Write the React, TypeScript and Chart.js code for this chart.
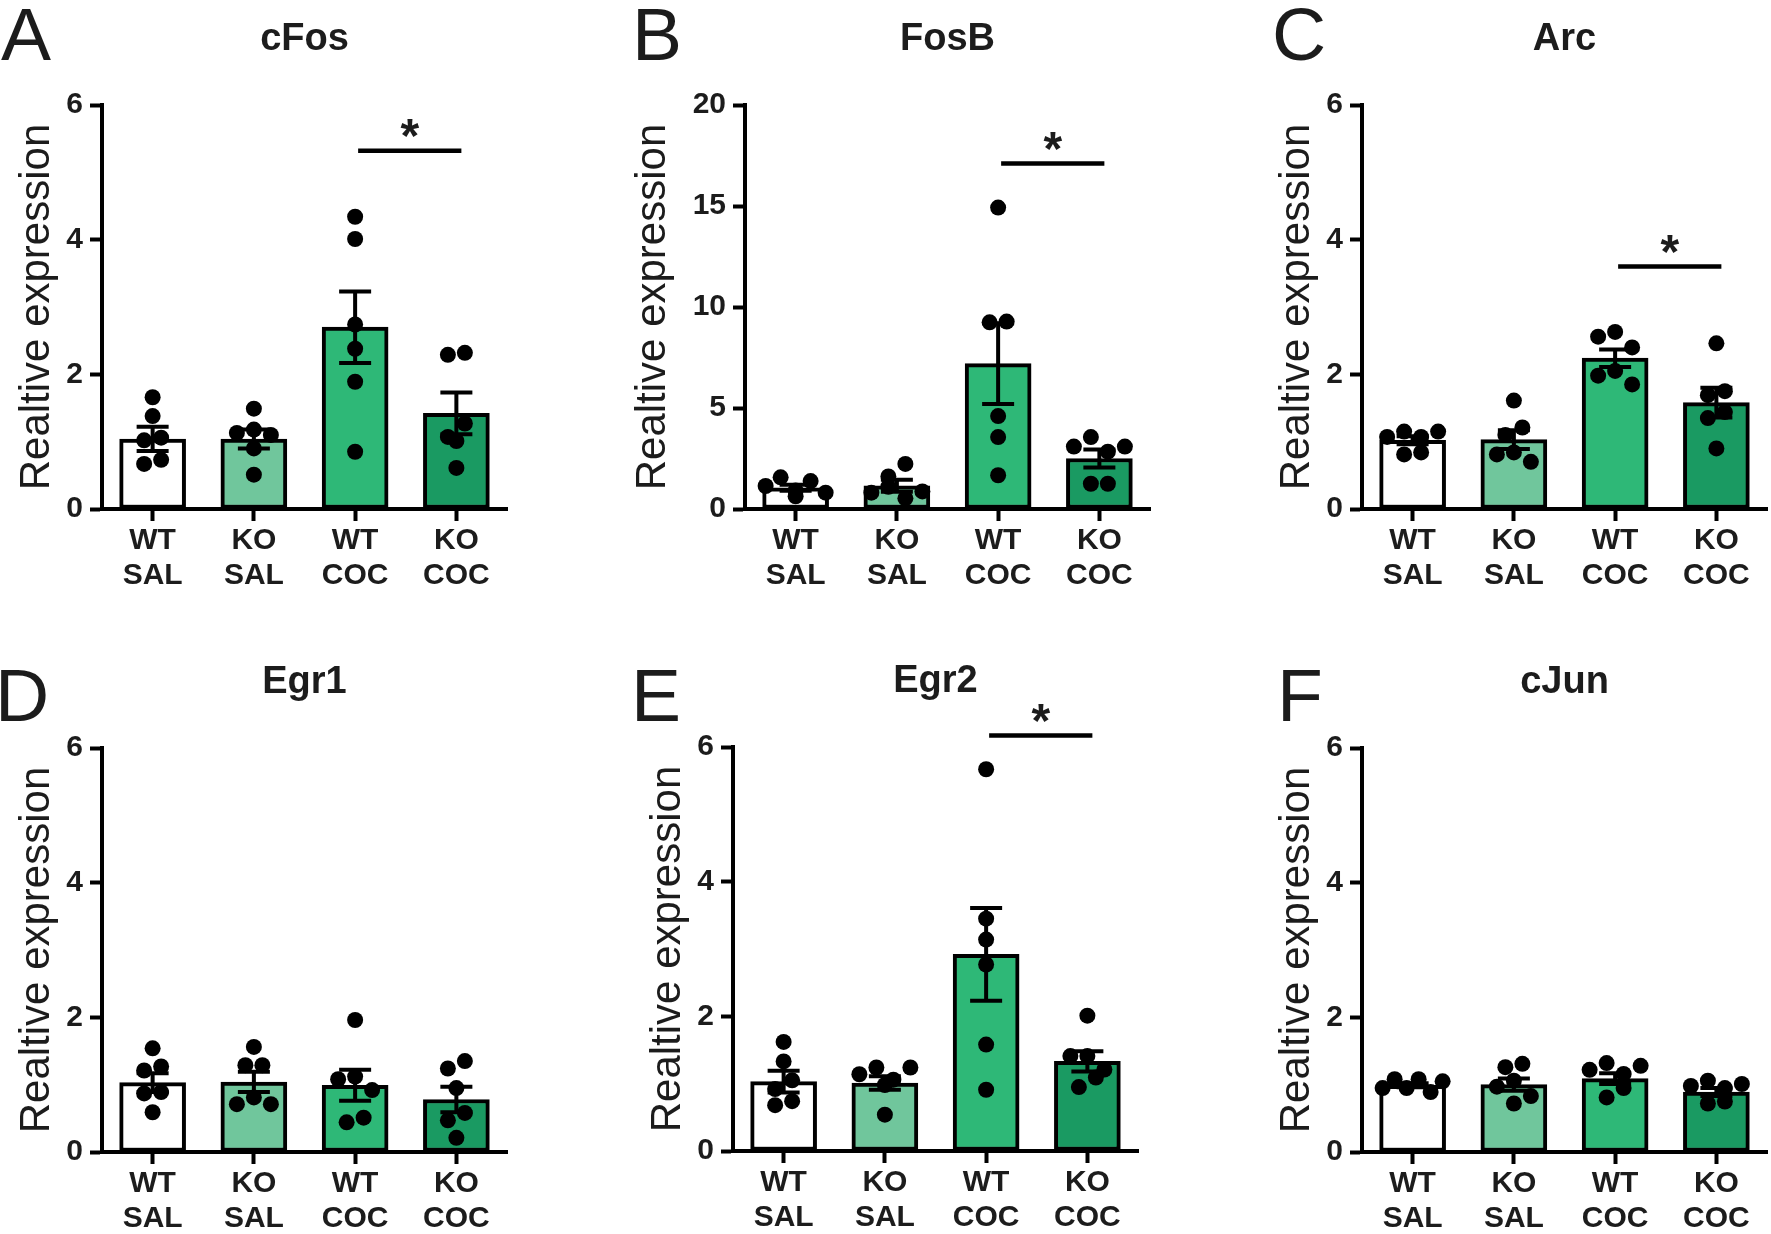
import { useEffect, useRef } from "react";
import { Chart, registerables, type Plugin } from "chart.js";

Chart.register(...registerables);

const groupLabels = [
  ["WT", "SAL"],
  ["KO", "SAL"],
  ["WT", "COC"],
  ["KO", "COC"],
];
const barColors = ["#ffffff", "#70c69c", "#2eb877", "#1a9a62"];

// cFos
const cFosMean = [1.04, 1.04, 2.7, 1.42];
const cFosSem = [0.18, 0.14, 0.53, 0.31];
const cFosPoints = [
  [1.66, 1.38, 1.06, 1.02, 0.73, 0.67],
  [1.49, 1.18, 1.13, 1.1, 0.9, 0.51],
  [4.34, 4.01, 2.74, 2.38, 1.89, 0.85],
  [2.32, 2.29, 1.27, 1.07, 1.01, 0.61],
];

// FosB
const fosBMean = [1.05, 1.15, 7.2, 2.5];
const fosBSem = [0.15, 0.3, 2.0, 0.45];
const fosBPoints = [
  [1.57, 1.38, 1.14, 0.91, 0.81, 0.63],
  [2.23, 1.61, 1.1, 0.87, 0.81, 0.53],
  [14.92, 9.28, 9.24, 4.6, 3.56, 1.67],
  [3.56, 3.09, 3.09, 2.84, 1.25, 1.25],
];

// Arc
const arcMean = [1.02, 1.03, 2.24, 1.58];
const arcSem = [0.06, 0.14, 0.13, 0.22];
const arcPoints = [
  [1.15, 1.15, 1.07, 1.07, 0.84, 0.81],
  [1.61, 1.21, 1.1, 0.84, 0.81, 0.7],
  [2.63, 2.56, 2.4, 2.05, 1.98, 1.85],
  [2.46, 1.75, 1.69, 1.44, 1.35, 0.9],
];

// Egr1
const egr1Mean = [1.03, 1.04, 0.99, 0.78];
const egr1Sem = [0.14, 0.15, 0.23, 0.19];
const egr1Points = [
  [1.54, 1.27, 1.21, 0.89, 0.87, 0.59],
  [1.56, 1.29, 1.29, 0.81, 0.71, 0.71],
  [1.96, 1.12, 1.08, 0.92, 0.51, 0.44],
  [1.35, 1.24, 0.95, 0.58, 0.47, 0.21],
];

// Egr2
const egr2Mean = [1.03, 1.01, 2.92, 1.33];
const egr2Sem = [0.16, 0.1, 0.69, 0.15];
const egr2Points = [
  [1.62, 1.33, 1.05, 0.92, 0.74, 0.68],
  [1.24, 1.24, 1.14, 1.06, 0.98, 0.54],
  [5.67, 3.45, 3.14, 2.77, 1.58, 0.91],
  [2.01, 1.41, 1.41, 1.21, 1.09, 0.95],
];

// cJun
const cJunMean = [0.99, 1.0, 1.09, 0.89];
const cJunSem = [0.03, 0.09, 0.08, 0.06];
const cJunPoints = [
  [1.08, 1.08, 1.05, 0.95, 0.95, 0.89],
  [1.31, 1.26, 1.06, 0.97, 0.83, 0.72],
  [1.32, 1.28, 1.22, 1.16, 0.95, 0.81],
  [1.06, 1.01, 0.98, 0.95, 0.75, 0.72],
];

// significance bar height (WT COC vs KO COC), null when none
const sigLevels = [5.32, 17.1, 3.6, null, 6.17, null];

type Panel = {
  letter: string;
  title: string;
  mean: number[];
  sem: number[];
  points: number[][];
  yMax: number;
  yStep: number;
  sig: number | null;
};

const panels: Panel[] = [
  { letter: "A", title: "cFos", mean: cFosMean, sem: cFosSem, points: cFosPoints, yMax: 6, yStep: 2, sig: sigLevels[0] },
  { letter: "B", title: "FosB", mean: fosBMean, sem: fosBSem, points: fosBPoints, yMax: 20, yStep: 5, sig: sigLevels[1] },
  { letter: "C", title: "Arc", mean: arcMean, sem: arcSem, points: arcPoints, yMax: 6, yStep: 2, sig: sigLevels[2] },
  { letter: "D", title: "Egr1", mean: egr1Mean, sem: egr1Sem, points: egr1Points, yMax: 6, yStep: 2, sig: sigLevels[3] },
  { letter: "E", title: "Egr2", mean: egr2Mean, sem: egr2Sem, points: egr2Points, yMax: 6, yStep: 2, sig: sigLevels[4] },
  { letter: "F", title: "cJun", mean: cJunMean, sem: cJunSem, points: cJunPoints, yMax: 6, yStep: 2, sig: sigLevels[5] },
];

// layout
const FONT = '"Liberation Sans", Arial, Helvetica, sans-serif';
const TEXT = "#1c1c1c";
const LEFT = 140;
const TOP = 105;
const PLOT_W = 405;
const PLOT_H = 404;
const BOTTOM = 100;
const RIGHT = 12;
const CW = LEFT + PLOT_W + RIGHT;
const CH = TOP + PLOT_H + BOTTOM;
const TITLE_SIZE = 42;
// y axis x position / plot top for each panel (A..F)
const axisX = [102, 745, 1362, 102, 733, 1362];
const axisY = [105, 105, 105, 748, 747, 748];
const letterX = [1, 632, 1272, -5, 631, 1277];
const letterBase = [60, 60, 60, 721, 721, 721];
const DOT_R = 8;
const DOT_GAP = 17;
const ROW_SPAN = 60;

// GraphPad-like spreading: dots closer than one diameter share a row and sit side by side,
// higher ones on the odd slots so a row zigzags instead of sloping
function spread(pix: number[]): number[] {
  const order = pix.map((_, i) => i).sort((a, b) => pix[a] - pix[b]);
  const rows: number[][] = [];
  order.forEach((i) => {
    const row = rows[rows.length - 1];
    if (row && pix[i] - pix[row[0]] < DOT_R * 2) row.push(i);
    else rows.push([i]);
  });
  const off = pix.map(() => 0);
  rows.forEach((row) => {
    const n = row.length;
    const gap = n > 1 ? Math.min(DOT_GAP, ROW_SPAN / (n - 1)) : 0;
    const slots: number[] = [];
    for (let s = 1; s < n; s += 2) slots.push(s);
    for (let s = 0; s < n; s += 2) slots.push(s);
    if (n === 1) slots[0] = 0;
    row.forEach((i, k) => {
      off[i] = (slots[k] - (n - 1) / 2) * gap;
    });
  });
  return off;
}

function overlayPlugin(p: Panel, lx: number, lb: number): Plugin<"bar"> {
  return {
    id: "panelOverlay",
    afterDatasetsDraw(chart) {
      const { ctx } = chart;
      const x = chart.scales.x;
      const y = chart.scales.y;
      ctx.save();
      ctx.strokeStyle = "#000";
      ctx.fillStyle = "#000";
      ctx.lineWidth = 4;
      p.mean.forEach((m, i) => {
        const cx = x.getPixelForValue(i);
        const top = y.getPixelForValue(m + p.sem[i]);
        const bot = y.getPixelForValue(Math.max(0, m - p.sem[i]));
        ctx.beginPath();
        ctx.moveTo(cx, top);
        ctx.lineTo(cx, bot);
        ctx.moveTo(cx - 16, top);
        ctx.lineTo(cx + 16, top);
        ctx.moveTo(cx - 16, bot);
        ctx.lineTo(cx + 16, bot);
        ctx.stroke();
      });
      p.points.forEach((vals, i) => {
        const cx = x.getPixelForValue(i);
        const pix = vals.map((v) => y.getPixelForValue(v));
        const off = spread(pix);
        pix.forEach((py, k) => {
          ctx.beginPath();
          ctx.arc(cx + off[k], py, DOT_R, 0, Math.PI * 2);
          ctx.fill();
        });
      });
      ctx.restore();
    },
    afterDraw(chart) {
      const { ctx, chartArea } = chart;
      const x = chart.scales.x;
      const y = chart.scales.y;
      ctx.save();
      ctx.fillStyle = TEXT;
      ctx.textBaseline = "alphabetic";
      ctx.textAlign = "left";
      ctx.font = `normal 75px ${FONT}`;
      ctx.fillText(p.letter, lx, lb);
      ctx.textAlign = "center";
      ctx.font = `bold 38px ${FONT}`;
      ctx.fillText(p.title, (chartArea.left + chartArea.right) / 2, chartArea.top - 55);
      if (p.sig != null) {
        const x1 = x.getPixelForValue(2) + 3;
        const x2 = x.getPixelForValue(3) + 5;
        const sy = y.getPixelForValue(p.sig);
        ctx.strokeStyle = "#000";
        ctx.lineWidth = 4.5;
        ctx.beginPath();
        ctx.moveTo(x1, sy);
        ctx.lineTo(x2, sy);
        ctx.stroke();
        ctx.font = `bold 48px ${FONT}`;
        ctx.fillText("*", (x1 + x2) / 2, sy + 1);
      }
      ctx.restore();
    },
  };
}

function PanelChart({ panel, index }: { panel: Panel; index: number }) {
  const ref = useRef<HTMLCanvasElement>(null);
  const left = axisX[index] - LEFT;
  const top = axisY[index] - TOP;
  // distance from the y axis to the centre of its title (wider for two-digit ticks)
  const titleGap = panel.yMax >= 10 ? 92 : 65;

  useEffect(() => {
    const canvas = ref.current;
    if (!canvas) return;
    const tickFont = { family: FONT, size: 30, weight: "bold" as const, lineHeight: 1.17 };
    const tickGrid = {
      display: true,
      offset: false,
      drawOnChartArea: false,
      drawTicks: true,
      tickLength: 12,
      tickWidth: 4,
      tickColor: "#000",
    };
    const chart = new Chart(canvas, {
      type: "bar",
      data: {
        datasets: [
          {
            data: panel.mean.map((m, i) => ({ x: i, y: m })),
            backgroundColor: barColors,
            borderColor: "#000",
            borderWidth: 4,
            borderSkipped: false,
            barThickness: 66,
          },
        ],
      },
      options: {
        responsive: false,
        animation: false,
        layout: { padding: { top: TOP, right: RIGHT, left: 0, bottom: 0 } },
        plugins: { legend: { display: false }, tooltip: { enabled: false } },
        scales: {
          x: {
            type: "linear",
            offset: false,
            min: -0.5,
            max: 3.5,
            afterBuildTicks: (s) => {
              s.ticks = groupLabels.map((_, i) => ({ value: i }));
            },
            afterFit: (s) => {
              s.height = BOTTOM;
            },
            ticks: {
              callback: (v) => groupLabels[Number(v)] ?? "",
              font: tickFont,
              color: TEXT,
              padding: 2,
              maxRotation: 0,
              autoSkip: false,
            },
            grid: tickGrid,
            border: { display: true, color: "#000", width: 4 },
          },
          y: {
            min: 0,
            max: panel.yMax,
            afterFit: (s) => {
              s.width = LEFT;
            },
            ticks: { stepSize: panel.yStep, font: tickFont, color: TEXT, padding: 7 },
            title: {
              display: true,
              text: "Realtive expression",
              color: TEXT,
              font: { family: FONT, size: TITLE_SIZE, weight: "normal" },
              padding: { top: LEFT - titleGap - (TITLE_SIZE * 1.2) / 2, bottom: 0 },
            },
            grid: tickGrid,
            border: { display: true, color: "#000", width: 4 },
          },
        },
      },
      plugins: [overlayPlugin(panel, letterX[index] - left, letterBase[index] - top)],
    });
    return () => chart.destroy();
  }, [panel, left, top, index, titleGap]);

  return (
    <canvas
      ref={ref}
      width={CW}
      height={CH}
      style={{ position: "absolute", left, top, width: CW, height: CH }}
    />
  );
}

export default function App() {
  return (
    <div
      style={{
        position: "absolute",
        left: 0,
        top: 0,
        width: 1771,
        height: 1234,
        overflow: "hidden",
        background: "#fff",
      }}
    >
      {panels.map((p, i) => (
        <PanelChart key={p.letter} panel={p} index={i} />
      ))}
    </div>
  );
}
